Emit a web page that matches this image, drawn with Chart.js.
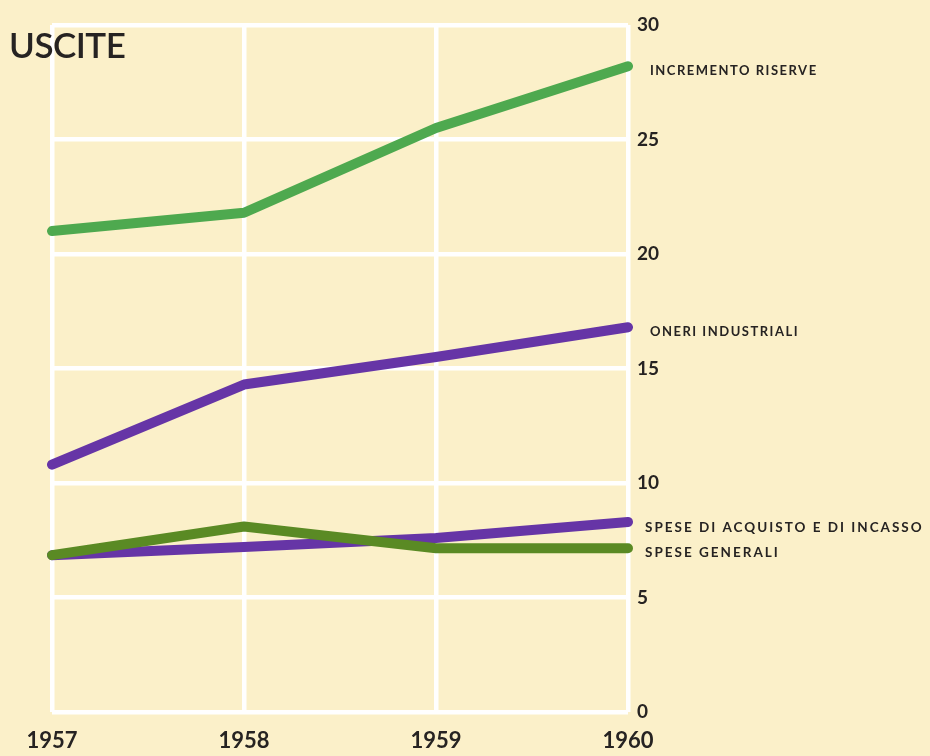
<!DOCTYPE html>
<html>
<head>
<meta charset="utf-8">
<script src="https://cdn.jsdelivr.net/npm/chart.js@4"></script>
<style>
  html, body { margin: 0; padding: 0; background: #fbf0c9; }
  #wrap { position: relative; width: 930px; height: 756px; }
</style>
</head>
<body>
<div id="wrap"><canvas id="c" width="930" height="756"></canvas></div>
<script>
const years = ['1957', '1958', '1959', '1960'];
const yTicks = [0, 5, 10, 15, 20, 25, 30];
const chartTitle = 'USCITE';

const seriesNames = ['INCREMENTO RISERVE', 'ONERI INDUSTRIALI', 'SPESE DI ACQUISTO E DI INCASSO', 'SPESE GENERALI'];
const incrementoRiserve = [21.0, 21.8, 25.5, 28.2];
const oneriIndustriali = [10.8, 14.3, 15.5, 16.8];
const speseAcquisto = [6.85, 7.2, 7.6, 8.3];
const speseGenerali = [6.85, 8.1, 7.15, 7.15];
const seriesColors = ['#4ea94f', '#6635a6', '#6635a6', '#5a8a24'];

const BG = '#fbf0c9';
const TEXT = '#262322';

const bgPlugin = {
  id: 'bg',
  beforeDraw(chart) {
    const ctx = chart.ctx;
    ctx.save();
    ctx.fillStyle = BG;
    ctx.fillRect(0, 0, chart.width, chart.height);
    ctx.restore();
  }
};

const labelPlugin = {
  id: 'endLabels',
  afterDraw(chart) {
    const ctx = chart.ctx;
    ctx.save();
    // title
    ctx.fillStyle = TEXT;
    ctx.font = '600 35px Lato, "Open Sans", sans-serif';
    ctx.textBaseline = 'middle';
    ctx.textAlign = 'left';
    ctx.letterSpacing = '-0.5px';
    ctx.fillText(chartTitle, 9, 47);
    // series end labels
    const sizes = [13, 13, 13.5, 13.5];
    const spacing = ['1.5px', '1.5px', '2px', '2px'];
    const offsets = [5, 5, 6, 4];
    const xOff = [22, 22, 17, 17];
    chart.data.datasets.forEach((ds, i) => {
      const meta = chart.getDatasetMeta(i);
      const pt = meta.data[meta.data.length - 1];
      ctx.font = 'bold ' + sizes[i] + 'px Lato, "Open Sans", sans-serif';
      ctx.letterSpacing = spacing[i];
      ctx.fillText(seriesNames[i], pt.x + xOff[i], pt.y + offsets[i]);
    });
    ctx.restore();
  }
};

const drawOrder = [3, 2, 1, 0];

new Chart(document.getElementById('c'), {
  type: 'line',
  data: {
    labels: years,
    datasets: [
      { label: seriesNames[0], data: incrementoRiserve },
      { label: seriesNames[1], data: oneriIndustriali },
      { label: seriesNames[2], data: speseAcquisto },
      { label: seriesNames[3], data: speseGenerali }
    ].map((d, i) => Object.assign(d, {
      borderColor: seriesColors[i],
      backgroundColor: seriesColors[i],
      borderWidth: 10,
      borderCapStyle: 'round',
      borderJoinStyle: 'round',
      pointRadius: 0,
      pointHoverRadius: 0,
      tension: 0,
      fill: false,
      order: drawOrder[i]
    }))
  },
  options: {
    responsive: false,
    animation: false,
    events: [],
    layout: { padding: { top: 25, left: 52, right: 0, bottom: 0 } },
    plugins: {
      legend: { display: false },
      tooltip: { enabled: false },
      title: { display: false }
    },
    scales: {
      x: {
        offset: false,
        grid: { color: '#ffffff', lineWidth: 4.5, drawTicks: false },
        border: { display: false },
        ticks: {
          color: TEXT,
          padding: 16,
          font: { family: 'Lato, "Open Sans", sans-serif', size: 22, weight: 'bold' },
          maxRotation: 0
        },
        afterFit(s) { s.height = 44; }
      },
      y: {
        position: 'right',
        min: yTicks[0],
        max: yTicks[yTicks.length - 1],
        afterBuildTicks(s) { s.ticks = yTicks.map(v => ({ value: v })); },
        grid: { color: '#ffffff', lineWidth: 4.5, drawTicks: false },
        border: { display: false },
        ticks: {
          color: TEXT,
          padding: 9,
          font: { family: 'Lato, "Open Sans", sans-serif', size: 19, weight: 'bold' }
        },
        afterFit(s) { s.width = 302; }
      }
    }
  },
  plugins: [bgPlugin, labelPlugin]
});
</script>
</body>
</html>
